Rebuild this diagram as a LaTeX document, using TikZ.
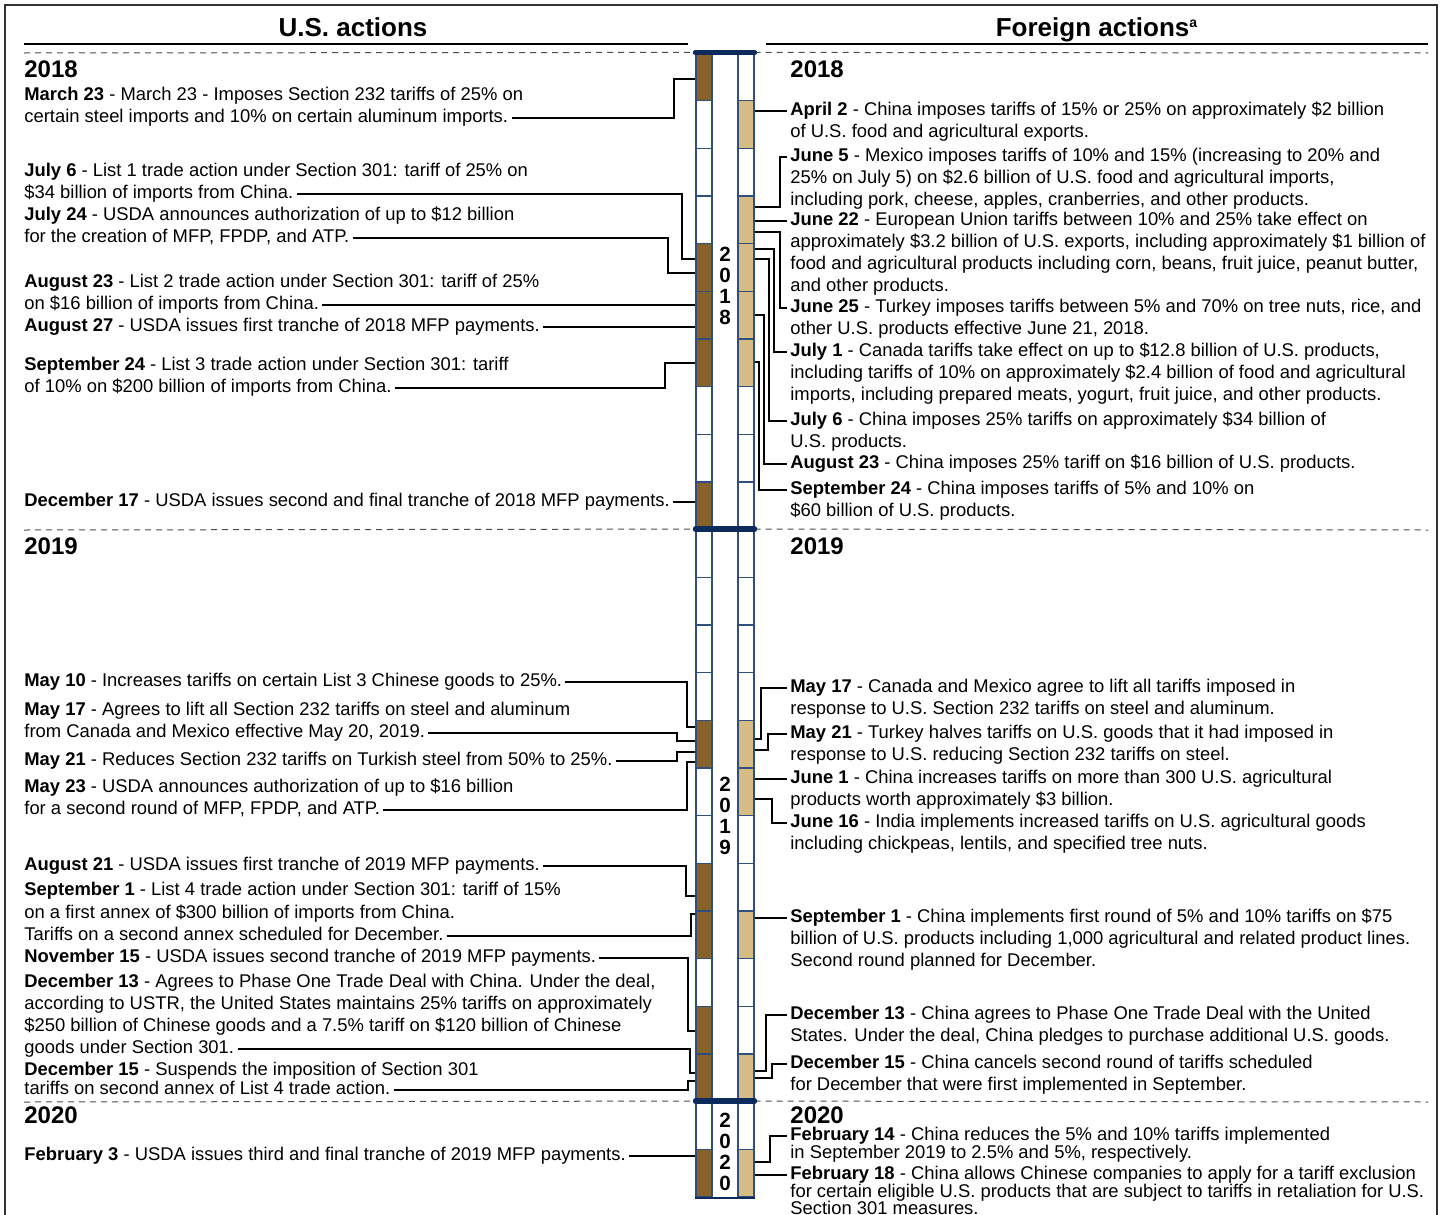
\documentclass[tikz,border=0pt]{standalone}
\usepackage{fontspec}
\setmainfont{Liberation Sans}
\definecolor{mfpbrown}{HTML}{86612A}
\definecolor{fortan}{HTML}{D5BC84}
\definecolor{cellblue}{HTML}{2F4F80}
\definecolor{barnavy}{HTML}{0C2B5C}
\colorlet{cellB}{mfpbrown}
\colorlet{cellT}{fortan}
\colorlet{cellW}{white}

\begin{document}
\begin{tikzpicture}[x=0.5pt,y=-0.5pt,
  ev/.style={anchor=west, inner xsep=1.5pt, inner ysep=0pt, text height=6.6pt, text depth=1.9pt, font=\fontsize{9.2}{11}\selectfont},
  yr/.style={anchor=west, inner sep=0pt, font=\bfseries\fontsize{12}{14}\selectfont},
  head/.style={anchor=base, inner sep=0pt, font=\bfseries\fontsize{13}{15}\selectfont},
  link/.style={line width=1pt},
  monthcell/.style={draw=cellblue, line width=0.6pt, minimum width=8pt, minimum height=23.83pt, inner sep=0pt},
  yearbar/.style={draw=barnavy, line width=2.6pt, line cap=round},
  yeardash/.style={draw=black!70, line width=0.5pt, dash pattern=on 3pt off 2.5pt},
  yeardigits/.style={align=center, inner sep=0pt, font=\bfseries\fontsize{10.3}{10.5}\selectfont}]
  \useasboundingbox (0,0) rectangle (1447,1215);
  \clip (0,0) rectangle (1447,1215);
  \draw[black!80, line width=0.7pt] (5,5) rectangle (1437,1240);

  % headings
  \node[head] (ushead) at (353,36) {U.S. actions};
  \node[head] (fohead) at (1097,36) {Foreign actions\textsuperscript{\fontsize{7}{8}\selectfont a}};
  \draw[line width=1pt] (24,44) -- (688,44);
  \draw[line width=1pt] (766,44) -- (1428,44);

  % month cells, Mar 2018 to Feb 2020
  \foreach \c [count=\i] in {B,W,W,W,B,B,B,W,W,B, W,W,W,W,B,W,W,B,B,W,B,B, W,B}
    \node[monthcell, fill=cell\c] (L\i) at (704,{53+47.667*(\i-0.5)}) {};
  \foreach \c [count=\i] in {W,T,W,T,T,T,T,W,W,W, W,W,W,W,T,T,W,W,T,W,W,T, W,T}
    \node[monthcell, fill=cell\c] (R\i) at (746,{53+47.667*(\i-0.5)}) {};

  \draw[yeardash] (24,53) -- (L1.north west);
  \draw[yeardash] (R1.north east) -- (1428,53);
  \draw[yeardash] (24,530) -- (L11.north west);
  \draw[yeardash] (R11.north east) -- (1428,530);
  \draw[yeardash] (24,1102) -- (L23.north west);
  \draw[yeardash] (R23.north east) -- (1428,1102);
  \draw[yearbar] (L1.north west) -- (R1.north east);
  \draw[yearbar] (L11.north west) -- (R11.north east);
  \draw[yearbar] (L23.north west) -- (R23.north east);
  \draw[draw=barnavy, line width=0.9pt] (L24.south west) -- (R24.south east);

  \node[yeardigits] (d18) at (725,286) {2\\0\\1\\8};
  \node[yeardigits] (d19) at (725,816) {2\\0\\1\\9};
  \node[yeardigits] (d20) at (725,1152) {2\\0\\2\\0};

  \node[yr] (yl18) at (24,69) {2018};
  \node[yr] (yr18) at (790,69) {2018};
  \node[yr] (yl19) at (24,546) {2019};
  \node[yr] (yr19) at (790,546) {2019};
  \node[yr] (yl20) at (24,1115) {2020};
  \node[yr] (yr20) at (790,1115) {2020};

  % U.S. actions
  \node[ev] (u1a) at (21,96) {\textbf{March 23} - March 23 - Imposes Section 232 tariffs of 25\% on};
  \node[ev] (u1b) at (21,118) {certain steel imports and 10\% on certain aluminum imports.};
  \node[ev] (u2a) at (21,172) {\textbf{July 6} - List 1 trade action under Section 301: tariff of 25\% on};
  \node[ev] (u2b) at (21,194) {\$34 billion of imports from China.};
  \node[ev] (u3a) at (21,216) {\textbf{July 24} - USDA announces authorization of up to \$12 billion};
  \node[ev] (u3b) at (21,238) {for the creation of MFP, FPDP, and ATP.};
  \node[ev] (u4a) at (21,283) {\textbf{August 23} - List 2 trade action under Section 301: tariff of 25\%};
  \node[ev] (u4b) at (21,305) {on \$16 billion of imports from China.};
  \node[ev] (u5a) at (21,327) {\textbf{August 27} - USDA issues first tranche of 2018 MFP payments.};
  \node[ev] (u6a) at (21,366) {\textbf{September 24} - List 3 trade action under Section 301: tariff};
  \node[ev] (u6b) at (21,388) {of 10\% on \$200 billion of imports from China.};
  \node[ev] (u7a) at (21,502) {\textbf{December 17} - USDA issues second and final tranche of 2018 MFP payments.};

  \node[ev] (u8a) at (21,682) {\textbf{May 10} - Increases tariffs on certain List 3 Chinese goods to 25\%.};
  \node[ev] (u9a) at (21,711) {\textbf{May 17} - Agrees to lift all Section 232 tariffs on steel and aluminum};
  \node[ev] (u9b) at (21,733) {from Canada and Mexico effective May 20, 2019.};
  \node[ev] (u10a) at (21,761) {\textbf{May 21} - Reduces Section 232 tariffs on Turkish steel from 50\% to 25\%.};
  \node[ev] (u11a) at (21,788) {\textbf{May 23} - USDA announces authorization of up to \$16 billion};
  \node[ev] (u11b) at (21,810) {for a second round of MFP, FPDP, and ATP.};
  \node[ev] (u12a) at (21,866) {\textbf{August 21} - USDA issues first tranche of 2019 MFP payments.};
  \node[ev] (u13a) at (21,891) {\textbf{September 1} - List 4 trade action under Section 301: tariff of 15\%};
  \node[ev] (u13b) at (21,914) {on a first annex of \$300 billion of imports from China.};
  \node[ev] (u13c) at (21,936) {Tariffs on a second annex scheduled for December.};
  \node[ev] (u14a) at (21,958) {\textbf{November 15} - USDA issues second tranche of 2019 MFP payments.};
  \node[ev] (u15a) at (21,983) {\textbf{December 13} - Agrees to Phase One Trade Deal with China. Under the deal,};
  \node[ev] (u15b) at (21,1005) {according to USTR, the United States maintains 25\% tariffs on approximately};
  \node[ev] (u15c) at (21,1027) {\$250 billion of Chinese goods and a 7.5\% tariff on \$120 billion of Chinese};
  \node[ev] (u15d) at (21,1049) {goods under Section 301.};
  \node[ev] (u16a) at (21,1071) {\textbf{December 15} - Suspends the imposition of Section 301};
  \node[ev] (u16b) at (21,1090) {tariffs on second annex of List 4 trade action.};
  \node[ev] (u17a) at (21,1156) {\textbf{February 3} - USDA issues third and final tranche of 2019 MFP payments.};

  \draw[link] (u1b.east) -| (674,79) -- (L1.west |- 0,79);
  \draw[link] (u2b.east) -| (682,259) -- (L5.west |- 0,259);
  \draw[link] (u3b.east) -| (668,273) -- (L5.west |- 0,273);
  \draw[link] (u4b.east) -- (L6.west |- u4b.east);
  \draw[link] (u5a.east) -- (L6.west |- u5a.east);
  \draw[link] (u6b.east) -| (665,363) -- (L7.west |- 0,363);
  \draw[link] (u7a.east) -- (L10.west |- u7a.east);
  \draw[link] (u8a.east) -| (687,727) -- (L15.west |- 0,727);
  \draw[link] (u9b.east) -| (677,741) -- (L15.west |- 0,741);
  \draw[link] (u10a.east) -| (677,752) -- (L15.west |- 0,752);
  \draw[link] (u11b.east) -| (687,762) -- (L15.west |- 0,762);
  \draw[link] (u12a.east) -| (686,896) -- (L18.west |- 0,896);
  \draw[link] (u13c.east) -| (691,914) -- (L19.west |- 0,914);
  \draw[link] (u14a.east) -| (688,1031) -- (L21.west |- 0,1031);
  \draw[link] (u15d.east) -| (690,1073) -- (L22.west |- 0,1073);
  \draw[link] (u16b.east) -| (688,1081) -- (L22.west |- 0,1081);
  \draw[link] (u17a.east) -- (L24.west |- u17a.east);

  % Foreign actions
  \node[ev] (f1a) at (787,111) {\textbf{April 2} - China imposes tariffs of 15\% or 25\% on approximately \$2 billion};
  \node[ev] (f1b) at (787,133) {of U.S. food and agricultural exports.};
  \node[ev] (f2a) at (787,157) {\textbf{June 5} - Mexico imposes tariffs of 10\% and 15\% (increasing to 20\% and};
  \node[ev] (f2b) at (787,179) {25\% on July 5) on \$2.6 billion of U.S. food and agricultural imports,};
  \node[ev] (f2c) at (787,201) {including pork, cheese, apples, cranberries, and other products.};
  \node[ev] (f3a) at (787,221) {\textbf{June 22} - European Union tariffs between 10\% and 25\% take effect on};
  \node[ev] (f3b) at (787,243) {approximately \$3.2 billion of U.S. exports, including approximately \$1 billion of};
  \node[ev] (f3c) at (787,265) {food and agricultural products including corn, beans, fruit juice, peanut butter,};
  \node[ev] (f3d) at (787,287) {and other products.};
  \node[ev] (f4a) at (787,308) {\textbf{June 25} - Turkey imposes tariffs between 5\% and 70\% on tree nuts, rice, and};
  \node[ev] (f4b) at (787,330) {other U.S. products effective June 21, 2018.};
  \node[ev] (f5a) at (787,352) {\textbf{July 1} - Canada tariffs take effect on up to \$12.8 billion of U.S. products,};
  \node[ev] (f5b) at (787,374) {including tariffs of 10\% on approximately \$2.4 billion of food and agricultural};
  \node[ev] (f5c) at (787,396) {imports, including prepared meats, yogurt, fruit juice, and other products.};
  \node[ev] (f6a) at (787,421) {\textbf{July 6} - China imposes 25\% tariffs on approximately \$34 billion of};
  \node[ev] (f6b) at (787,443) {U.S. products.};
  \node[ev] (f7a) at (787,464) {\textbf{August 23} - China imposes 25\% tariff on \$16 billion of U.S. products.};
  \node[ev] (f8a) at (787,490) {\textbf{September 24} - China imposes tariffs of 5\% and 10\% on};
  \node[ev] (f8b) at (787,512) {\$60 billion of U.S. products.};

  \node[ev] (f9a) at (787,688) {\textbf{May 17} - Canada and Mexico agree to lift all tariffs imposed in};
  \node[ev] (f9b) at (787,710) {response to U.S. Section 232 tariffs on steel and aluminum.};
  \node[ev] (f10a) at (787,734) {\textbf{May 21} - Turkey halves tariffs on U.S. goods that it had imposed in};
  \node[ev] (f10b) at (787,756) {response to U.S. reducing Section 232 tariffs on steel.};
  \node[ev] (f11a) at (787,779) {\textbf{June 1} - China increases tariffs on more than 300 U.S. agricultural};
  \node[ev] (f11b) at (787,801) {products worth approximately \$3 billion.};
  \node[ev] (f12a) at (787,823) {\textbf{June 16} - India implements increased tariffs on U.S. agricultural goods};
  \node[ev] (f12b) at (787,845) {including chickpeas, lentils, and specified tree nuts.};
  \node[ev] (f13a) at (787,918) {\textbf{September 1} - China implements first round of 5\% and 10\% tariffs on \$75};
  \node[ev] (f13b) at (787,940) {billion of U.S. products including 1,000 agricultural and related product lines.};
  \node[ev] (f13c) at (787,962) {Second round planned for December.};
  \node[ev] (f14a) at (787,1015) {\textbf{December 13} - China agrees to Phase One Trade Deal with the United};
  \node[ev] (f14b) at (787,1037) {States. Under the deal, China pledges to purchase additional U.S. goods.};
  \node[ev] (f15a) at (787,1064) {\textbf{December 15} - China cancels second round of tariffs scheduled};
  \node[ev] (f15b) at (787,1086) {for December that were first implemented in September.};
  \node[ev] (f16a) at (787,1136) {\textbf{February 14} - China reduces the 5\% and 10\% tariffs implemented};
  \node[ev] (f16b) at (787,1154) {in September 2019 to 2.5\% and 5\%, respectively.};
  \node[ev] (f17a) at (787,1175) {\textbf{February 18} - China allows Chinese companies to apply for a tariff exclusion};
  \node[ev] (f17b) at (787,1193) {for certain eligible U.S. products that are subject to tariffs in retaliation for U.S.};
  \node[ev] (f17c) at (787,1210) {Section 301 measures.};

  \draw[link] (R2.east |- f1a.west) -- (f1a.west);
  \draw[link] (R4.east |- 0,207) -| (f2a.west -| 780,0) -- (f2a.west);
  \draw[link] (R4.east |- f3a.west) -- (f3a.west);
  \draw[link] (R4.east |- 0,232) -| (f4a.west -| 780,0) -- (f4a.west);
  \draw[link] (R5.east |- 0,249) -| (f5a.west -| 774,0) -- (f5a.west);
  \draw[link] (R5.east |- 0,259) -| (f6a.west -| 769,0) -- (f6a.west);
  \draw[link] (R6.east |- 0,315) -| (f7a.west -| 764,0) -- (f7a.west);
  \draw[link] (R7.east |- 0,362) -| (f8a.west -| 759,0) -- (f8a.west);
  \draw[link] (R15.east |- 0,739) -| (f9a.west -| 761,0) -- (f9a.west);
  \draw[link] (R15.east |- 0,750) -| (f10a.west -| 768,0) -- (f10a.west);
  \draw[link] (R16.east |- f11a.west) -- (f11a.west);
  \draw[link] (R16.east |- 0,799) -| (f12a.west -| 772,0) -- (f12a.west);
  \draw[link] (R19.east |- f13a.west) -- (f13a.west);
  \draw[link] (R22.east |- 0,1071) -| (f14a.west -| 766,0) -- (f14a.west);
  \draw[link] (R22.east |- 0,1078) -| (f15a.west -| 772,0) -- (f15a.west);
  \draw[link] (R24.east |- 0,1162) -| (f16a.west -| 770,0) -- (f16a.west);
  \draw[link] (R24.east |- f17a.west) -- (f17a.west);
\end{tikzpicture}
\end{document}
